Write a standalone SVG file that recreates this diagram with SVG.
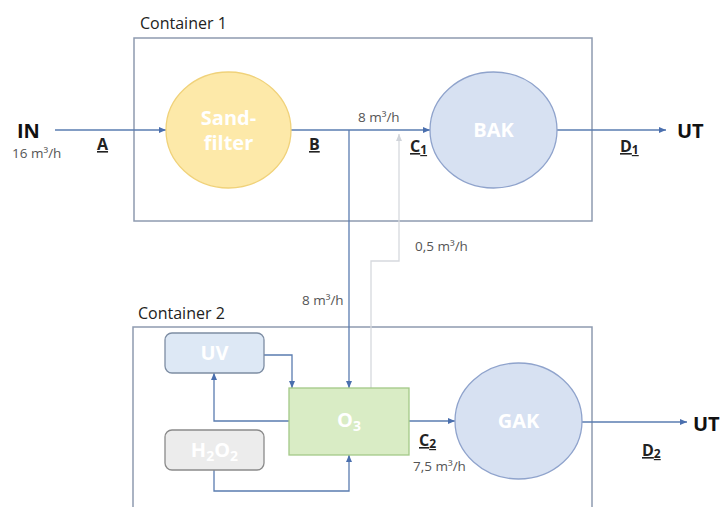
<svg xmlns="http://www.w3.org/2000/svg" width="723" height="507" viewBox="0 0 723 507">
<style>
.cont{fill:none;stroke:#8e9bb0;stroke-width:1.5}
.lbl{font-family:"Open Sans","Liberation Sans",sans-serif;font-size:16px;fill:#222}
.big{font-family:"Open Sans","Liberation Sans",sans-serif;font-size:20px;font-weight:bold;fill:#111}
.flow{font-family:"Open Sans","Liberation Sans",sans-serif;font-size:13.5px;fill:#555}
.pt{font-family:"Open Sans","Liberation Sans",sans-serif;font-size:16px;font-weight:bold;fill:#222;text-decoration:underline}
.nt{font-family:"Open Sans","Liberation Sans",sans-serif;font-size:20px;font-weight:bold;fill:#fff;text-anchor:middle}
.ln{fill:none;stroke:#5a7cb0;stroke-width:1.3}
.lg{fill:none;stroke:#d6d9de;stroke-width:1.3}
</style>
<defs>
<marker id="ar" markerWidth="8" markerHeight="8" refX="7" refY="4" orient="auto" markerUnits="userSpaceOnUse">
<path d="M0,1 L7,4 L0,7 Z" fill="#4a6fae"/>
</marker>
<marker id="arg" markerWidth="8" markerHeight="8" refX="7" refY="4" orient="auto" markerUnits="userSpaceOnUse">
<path d="M0,1 L7,4 L0,7 Z" fill="#d0d4da"/>
</marker>
</defs>
<rect width="723" height="507" fill="#fff"/>
<g id="container1">
<rect class="cont" x="134" y="38" width="458" height="183"/>
<text class="lbl" x="140" y="29">Container 1</text>
</g>
<g id="container2">
<rect class="cont" x="133" y="327" width="459" height="200"/>
<text class="lbl" x="138" y="319">Container 2</text>
</g>
<g id="connectors">
<path class="ln" d="M55,130 H166" marker-end="url(#ar)"/>
<path class="ln" d="M291,130 H430" marker-end="url(#ar)"/>
<path class="ln" d="M349,130 V388" marker-end="url(#ar)"/>
<path class="lg" d="M371,388 V261 H399 V134" marker-end="url(#arg)"/>
<path class="ln" d="M557,130 H666" marker-end="url(#ar)"/>
<path class="ln" d="M264,355 H292 V388" marker-end="url(#ar)"/>
<path class="ln" d="M289,421 H214 V373" marker-end="url(#ar)"/>
<path class="ln" d="M214,470 V491 H349 V455" marker-end="url(#ar)"/>
<path class="ln" d="M409,421 H455" marker-end="url(#ar)"/>
<path class="ln" d="M582,422 H687" marker-end="url(#ar)"/>
</g>
<g id="sandfilter">
<ellipse cx="228.5" cy="130" rx="62.5" ry="58" fill="#fde9a9" stroke="#f0d27a" stroke-width="1.3"/>
<text class="nt" x="228.5" y="125">Sand-</text>
<text class="nt" x="228.5" y="150">filter</text>
</g>
<g id="bak">
<ellipse cx="493.5" cy="130" rx="63.5" ry="58" fill="#d7e1f2" stroke="#8fa3cc" stroke-width="1.3"/>
<text class="nt" x="493.5" y="137">BAK</text>
</g>
<g id="uv">
<rect x="165" y="333" width="99" height="40" rx="7" fill="#dde8f5" stroke="#7d8da3" stroke-width="1.3"/>
<text class="nt" x="214.5" y="360">UV</text>
</g>
<g id="h2o2">
<rect x="165" y="430" width="99" height="40" rx="7" fill="#ececec" stroke="#8a8a8a" stroke-width="1.3"/>
<text class="nt" x="214.5" y="457">H<tspan font-size="14" dy="4">2</tspan><tspan dy="-4">O</tspan><tspan font-size="14" dy="4">2</tspan></text>
</g>
<g id="o3">
<rect x="289" y="388" width="120" height="67" fill="#d9ecc5" stroke="#a3c987" stroke-width="1.3"/>
<text class="nt" x="349" y="427">O<tspan font-size="14" dy="4">3</tspan></text>
</g>
<g id="gak">
<ellipse cx="518.5" cy="421" rx="63.5" ry="58" fill="#d7e1f2" stroke="#8fa3cc" stroke-width="1.3"/>
<text class="nt" x="518.5" y="428">GAK</text>
</g>
<g id="labels">
<text class="big" x="17" y="138">IN</text>
<text class="flow" x="12" y="158">16 m³/h</text>
<text class="pt" x="97" y="150">A</text>
<text class="pt" x="309" y="150">B</text>
<text class="flow" x="358" y="122">8 m³/h</text>
<text class="pt" x="410" y="152">C<tspan font-size="12" dy="2">1</tspan></text>
<text class="big" x="677" y="138">UT</text>
<text class="pt" x="620" y="152">D<tspan font-size="12" dy="2">1</tspan></text>
<text class="flow" x="415" y="251">0,5 m³/h</text>
<text class="flow" x="302" y="305">8 m³/h</text>
<text class="pt" x="419" y="446">C<tspan font-size="12" dy="2">2</tspan></text>
<text class="flow" x="413" y="471">7,5 m³/h</text>
<text class="big" x="693" y="431">UT</text>
<text class="pt" x="642" y="456">D<tspan font-size="12" dy="2">2</tspan></text>
</g>
</svg>
